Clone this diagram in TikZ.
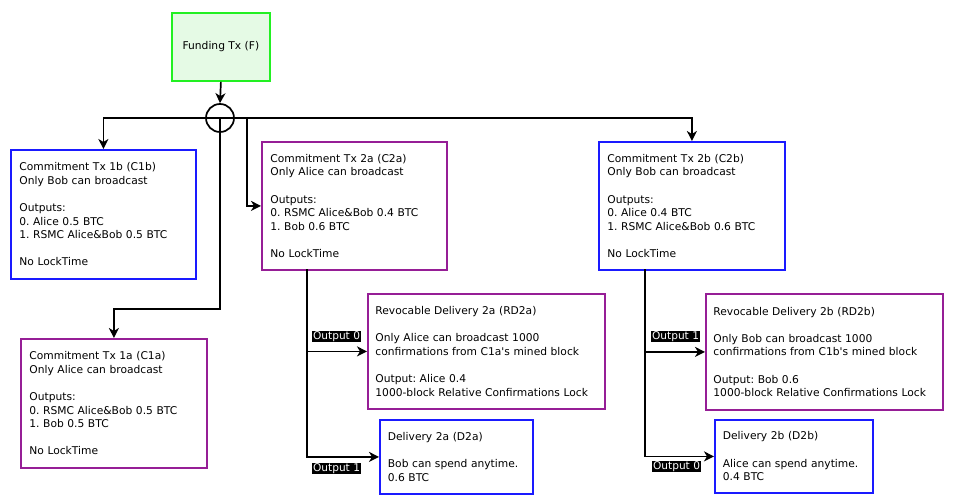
\documentclass[tikz,border=0pt]{standalone}
\usepackage{fontspec}
\setmainfont{DejaVu Sans}[Ligatures=TeXOff]
\usetikzlibrary{arrows.meta}
\definecolor{fgreen}{RGB}{34,240,34}
\definecolor{fgreenfill}{RGB}{229,250,229}
\definecolor{bblue}{RGB}{26,26,255}
\definecolor{ppurple}{RGB}{150,30,150}
\begin{document}
\frenchspacing
\begin{tikzpicture}[x=1pt,y=-1pt,
  txt/.style={font=\fontsize{10.7}{13.6}\selectfont\frenchspacing},
  box/.style={txt,draw=#1,line width=1.8pt,anchor=north west,align=left,inner xsep=8.5pt,inner ysep=0pt},
  outlbl/.style={fill=black,text=white,font=\fontsize{10.6}{12}\selectfont,inner xsep=0.8pt,inner ysep=0.8pt,text height=7.8pt,text depth=1.6pt},
  arr/.style={line width=1.7pt,-{Stealth[length=10pt,width=10pt,inset=3pt]}},
  ln/.style={line width=1.7pt}]
\useasboundingbox[fill=white] (0,0) rectangle (963,498);

\node[txt,draw=fgreen,fill=fgreenfill,line width=1.8pt,anchor=north west,minimum width=98pt,minimum height=68pt,align=center] (F) at (171,12) {Funding Tx (F)};

\node[draw,circle,line width=1.7pt,minimum size=28pt,inner sep=0pt] (X) at (220,118) {};

\node[box=bblue,minimum width=185pt,minimum height=129pt,text width=168pt] (C1b) at (10,149)
 {Commitment Tx 1b (C1b)\\Only Bob can broadcast\\[13.6pt]Outputs:\\0. Alice 0.5 BTC\\1. RSMC Alice\&Bob 0.5 BTC\\[13.6pt]No LockTime};

\node[box=ppurple,minimum width=185pt,minimum height=128pt,text width=168pt] (C2a) at (261,141)
 {Commitment Tx 2a (C2a)\\Only Alice can broadcast\\[13.6pt]Outputs:\\0. RSMC Alice\&Bob 0.4 BTC\\1. Bob 0.6 BTC\\[13.6pt]No LockTime};

\node[box=bblue,minimum width=186pt,minimum height=128pt,text width=169pt] (C2b) at (598,141)
 {Commitment Tx 2b (C2b)\\Only Bob can broadcast\\[13.6pt]Outputs:\\0. Alice 0.4 BTC\\1. RSMC Alice\&Bob 0.6 BTC\\[13.6pt]No LockTime};

\node[box=ppurple,minimum width=186pt,minimum height=129pt,text width=169pt] (C1a) at (20,338)
 {Commitment Tx 1a (C1a)\\Only Alice can broadcast\\[13.6pt]Outputs:\\0. RSMC Alice\&Bob 0.5 BTC\\1. Bob 0.5 BTC\\[13.6pt]No LockTime};

\node[box=ppurple,minimum width=237pt,minimum height=115pt,text width=222pt,inner xsep=7.5pt] (RD2a) at (367,293)
 {Revocable Delivery 2a (RD2a)\\[13.6pt]Only Alice can broadcast 1000\\confirmations from C1a's mined block\\[13.6pt]Output: Alice 0.4\\1000-block Relative Confirmations Lock};

\node[box=bblue,minimum width=153pt,minimum height=74pt,text width=137pt,inner xsep=8pt] (D2a) at (379,419)
 {Delivery 2a (D2a)\\[13.6pt]Bob can spend anytime.\\0.6 BTC};

\node[box=ppurple,minimum width=237pt,minimum height=116pt,text width=222pt,inner xsep=7.5pt] (RD2b) at (705,293)
 {Revocable Delivery 2b (RD2b)\\[13.6pt]Only Bob can broadcast 1000\\confirmations from C1b's mined block\\[13.6pt]Output: Bob 0.6\\1000-block Relative Confirmations Lock};

\node[box=bblue,minimum width=158pt,minimum height=73pt,text width=142pt,inner xsep=8pt] (D2b) at (714,419)
 {Delivery 2b (D2b)\\[13.6pt]Alice can spend anytime.\\0.4 BTC};

% connectors
\draw[arr] (F.south) -- (X.north);
\draw[arr] (X.center) -| (C1b.north);
\draw[arr] (X.center) -| (C2b.north);
\draw[arr] (X.center) -- ++(0,191) -| (C1a.north);
\coordinate (j) at (247,118);
\draw[arr] (j) |- (C2a.west);

\coordinate (a0) at (307,269);
\draw[arr] (a0) |- (RD2a.west);
\draw[arr] (a0) |- (D2a.west);
\coordinate (b0) at (645,269);
\draw[arr] (b0) |- (RD2b.west);
\draw[arr] (b0) |- (D2b.west);

% output labels
\node[outlbl,anchor=south east] (la0) at (361,342) {Output 0};
\node[outlbl,anchor=north east] (la1) at (361,463) {Output 1};
\node[outlbl,anchor=south east] (lb1) at (700,342) {Output 1};
\node[outlbl,anchor=north east] (lb0) at (701,461) {Output 0};
\end{tikzpicture}
\end{document}
